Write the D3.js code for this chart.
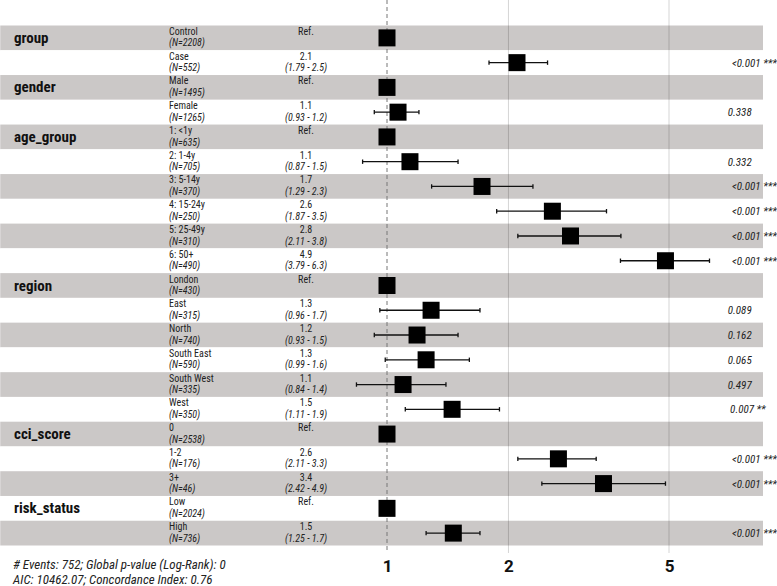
<!DOCTYPE html>
<html><head><meta charset="utf-8">
<script src="https://cdn.jsdelivr.net/npm/d3@7"></script>
<style>
body{margin:0;background:#fff;}
svg text{font-family:"Liberation Sans Narrow","Roboto Condensed","Roboto",sans-serif;}
</style></head>
<body><svg id="c" width="777" height="586"></svg>
<script>
const varNames = ["group","","gender","","age_group","","","","","","region","","","","","","cci_score","","","risk_status",""];
const levels = ["Control","Case","Male","Female","1: <1y","2: 1-4y","3: 5-14y","4: 15-24y","5: 25-49y","6: 50+","London","East","North","South East","South West","West","0","1-2","3+","Low","High"];
const nObs = [2208,552,1495,1265,635,705,370,250,310,490,430,315,740,590,335,350,2538,176,46,2024,736];
const hr = [1,2.10,1,1.065,1,1.14,1.72,2.57,2.85,4.9,1,1.286,1.187,1.25,1.096,1.45,1,2.66,3.44,1,1.46];
const ciLow = [null,1.79,null,0.93,null,0.87,1.29,1.87,2.11,3.79,null,0.96,0.93,0.99,0.84,1.11,null,2.11,2.42,null,1.25];
const ciHigh = [null,2.5,null,1.2,null,1.5,2.3,3.5,3.8,6.3,null,1.7,1.5,1.6,1.4,1.9,null,3.3,4.9,null,1.7];
const hrText = ["Ref.","2.1","Ref.","1.1","Ref.","1.1","1.7","2.6","2.8","4.9","Ref.","1.3","1.2","1.3","1.1","1.5","Ref.","2.6","3.4","Ref.","1.5"];
const ciText = ["","(1.79 - 2.5)","","(0.93 - 1.2)","","(0.87 - 1.5)","(1.29 - 2.3)","(1.87 - 3.5)","(2.11 - 3.8)","(3.79 - 6.3)","","(0.96 - 1.7)","(0.93 - 1.5)","(0.99 - 1.6)","(0.84 - 1.4)","(1.11 - 1.9)","","(2.11 - 3.3)","(2.42 - 4.9)","","(1.25 - 1.7)"];
const pText = ["","<0.001 ***","","0.338","","0.332","<0.001 ***","<0.001 ***","<0.001 ***","<0.001 ***","","0.089","0.162","0.065","0.497","0.007 **","","<0.001 ***","<0.001 ***","","<0.001 ***"];
const xTicks = [1,2,5];
const plotRange = [0.11, 8.55];
const footer = ["# Events: 752; Global p-value (Log-Rank): 0","AIC: 10462.07; Concordance Index: 0.76"];

const svg = d3.select("#c");
const x = d3.scaleLog().domain([1,5]).range([387,669]);
const y = d3.scaleBand().domain(d3.range(levels.length)).range([25.5,545.5]).padding(0);
const rowC = i => y(i) + y.bandwidth()/2;

// stripes
svg.append("g").selectAll("rect").data(d3.range(levels.length)).join("rect")
  .attr("x", x(plotRange[0])).attr("width", x(plotRange[1]) - x(plotRange[0]))
  .attr("y", i => y(i)).attr("height", y.bandwidth())
  .attr("fill", i => i % 2 === 0 ? "#cbc8c7" : "#ffffff");

// grid lines
svg.append("g").selectAll("line").data(xTicks.filter(t => t !== 1)).join("line")
  .attr("x1", d => x(d)).attr("x2", d => x(d)).attr("y1", 0).attr("y2", 553)
  .attr("stroke", "rgba(0,0,0,0.17)").attr("stroke-width", 1);

// reference dashed line
svg.append("line").attr("x1", x(1)).attr("x2", x(1)).attr("y1", 0).attr("y2", 552)
  .attr("stroke", "#777").attr("stroke-width", 1).attr("stroke-dasharray", "4,3");

// axis labels
const axisG = svg.append("g").attr("transform", "translate(0,572)");
const axis = d3.axisBottom(x).tickValues(xTicks).tickFormat(d3.format("d")).tickSize(0).tickPadding(0);
axisG.call(axis);
axisG.select(".domain").remove();
axisG.selectAll("text").attr("dy", 0).attr("y", 0)
  .style("font-size", "17px").style("font-weight", "bold").attr("fill", "#111")
  .style("font-family", '"Liberation Sans Narrow","Roboto",sans-serif');

// CI lines
const ci = d3.range(levels.length).filter(i => ciLow[i] !== null);
const eb = svg.append("g").attr("stroke", "#111").attr("stroke-width", 1.3);
eb.selectAll("line.h").data(ci).join("line").attr("class","h")
  .attr("x1", i => x(ciLow[i])).attr("x2", i => x(ciHigh[i]))
  .attr("y1", rowC).attr("y2", rowC);
eb.selectAll("line.l").data(ci).join("line").attr("class","l")
  .attr("x1", i => x(ciLow[i])).attr("x2", i => x(ciLow[i]))
  .attr("y1", i => rowC(i) - 2.2).attr("y2", i => rowC(i) + 2.2);
eb.selectAll("line.r").data(ci).join("line").attr("class","r")
  .attr("x1", i => x(ciHigh[i])).attr("x2", i => x(ciHigh[i]))
  .attr("y1", i => rowC(i) - 2.2).attr("y2", i => rowC(i) + 2.2);

// boxes
const bs = 17;
svg.append("g").selectAll("rect").data(d3.range(levels.length)).join("rect")
  .attr("x", i => x(hr[i]) - bs/2).attr("y", i => rowC(i) - bs/2)
  .attr("width", bs).attr("height", bs).attr("fill", "#000");

// variable names
svg.append("g").selectAll("text").data(d3.range(levels.length).filter(i => varNames[i])).join("text")
  .attr("x", 14).attr("y", i => rowC(i) + 5)
  .style("font-size", "15px").style("font-weight", "bold").attr("fill", "#111")
  .text(i => varNames[i]);

// level names + N
const lv = svg.append("g").attr("fill", "#222").style("font-size", "10px");
lv.selectAll("text.a").data(d3.range(levels.length)).join("text").attr("class","a")
  .attr("x", 169).attr("y", i => rowC(i) - 3).text(i => levels[i]);
lv.selectAll("text.b").data(d3.range(levels.length)).join("text").attr("class","b")
  .attr("x", 169).attr("y", i => rowC(i) + 8.6).style("font-style","italic")
  .text(i => "(N=" + nObs[i] + ")");

// estimates
const es = svg.append("g").attr("fill", "#222").style("font-size", "10px").attr("text-anchor","middle");
es.selectAll("text.a").data(d3.range(levels.length)).join("text").attr("class","a")
  .attr("x", 306).attr("y", i => rowC(i) - 3).text(i => hrText[i]);
es.selectAll("text.b").data(d3.range(levels.length).filter(i => ciText[i])).join("text").attr("class","b")
  .attr("x", 306).attr("y", i => rowC(i) + 8.6).style("font-style","italic")
  .text(i => ciText[i]);

// p-values (hjust = -0.2)
const pv = svg.append("g").attr("fill", "#222").style("font-size", "11px").style("font-style","italic");
pv.selectAll("text").data(d3.range(levels.length).filter(i => pText[i])).join("text")
  .attr("y", i => rowC(i) + 4).text(i => pText[i])
  .each(function(){ const w = this.getComputedTextLength(); d3.select(this).attr("x", 723 + 0.2*w); });

// footer
svg.append("g").attr("fill","#222").style("font-size","13px").style("font-style","italic")
  .selectAll("text").data(footer).join("text")
  .attr("x", 13).attr("y", (d,i) => 569 + i*15).text(d => d);
</script></body></html>
